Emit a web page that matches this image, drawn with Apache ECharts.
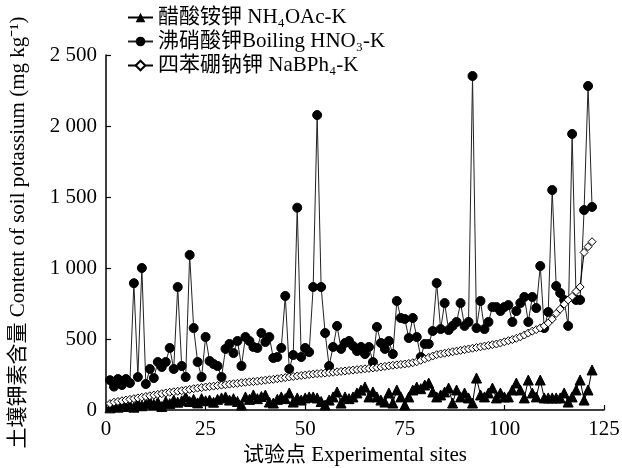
<!DOCTYPE html>
<html>
<head>
<meta charset="utf-8">
<script src="https://cdn.jsdelivr.net/npm/echarts@6/dist/echarts.min.js"></script>
<style>html,body{margin:0;padding:0;background:#fff}#c{width:622px;height:468px}</style>
</head>
<body>
<div id="c"></div>
<script>
var xTicks = [0, 25, 50, 75, 100, 125];
var yTicks = [0, 500, 1000, 1500, 2000, 2500];
var seriesNames = ['醋酸铵钾 NH₄OAc-K', '沸硝酸钾Boiling HNO₃-K', '四苯硼钠钾 NaBPh₄-K'];

var nh4oac = [15,30,20,40,25,35,20,50,30,45,60,40,55,25,60,45,70,55,65,92,60,75,50,80,65,
  70,55,75,85,92,70,80,60,35,92,75,106,80,95,106,56,49,75,92,80,120,56,85,70,85,
  92,92,85,60,35,70,92,127,49,92,80,92,120,140,162,92,127,92,70,56,120,49,141,92,35,
  92,141,162,150,176,190,127,92,106,127,155,49,141,92,120,85,49,225,106,92,120,155,85,120,92,
  92,141,190,141,85,211,120,92,211,85,85,85,85,85,120,56,92,141,211,70,141,282];

var hno3 = [210,165,218,176,218,190,893,232,1000,183,289,225,338,303,338,437,289,866,310,232,
  1092,577,338,232,514,345,324,310,232,430,465,401,486,310,514,486,444,437,542,479,
  514,366,373,437,803,289,387,1425,373,437,408,866,2077,866,542,310,444,592,430,472,
  486,451,415,444,394,444,338,585,472,430,486,394,768,648,641,507,648,514,373,465,
  465,556,894,570,753,563,592,620,753,592,620,2352,577,768,570,620,725,725,697,725,
  739,620,697,753,796,620,796,718,1014,577,690,1549,873,824,775,592,1944,775,775,1408,
  2282,1430];

var nabph4 = [45,55,60,65,70,75,80,85,90,95,100,105,110,115,120,125,128,132,136,140,
  145,150,154,158,162,165,168,172,175,178,182,185,188,192,195,198,200,203,206,210,
  213,216,220,224,228,232,236,240,243,246,250,253,256,258,260,263,266,269,272,275,
  278,281,284,287,290,293,296,299,303,307,311,315,318,321,324,328,333,340,350,360,
  370,380,390,395,400,405,410,415,420,425,430,435,440,445,450,455,460,465,472,480,
  488,496,505,515,528,542,555,566,578,592,612,640,680,710,745,775,800,835,866,1110,
  1150,1185];

function pairs(arr){ return arr.map(function(v,i){ return [i+1, v]; }); }
function fmtNum(v){ return v >= 1000 ? Math.floor(v/1000) + ' ' + String(v%1000).padStart(3,'0') : String(v); }

var serif = '"Liberation Serif", "Noto Sans CJK SC", serif';
var FS = 21;
var chart = echarts.init(document.getElementById('c'), null, {renderer:'canvas'});
chart.setOption({
  animation: false,
  backgroundColor: '#fff',
  grid: {left: 106, right: 18, top: 55, bottom: 58, containLabel: false, outerBoundsMode: 'none'},
  legend: {
    orient: 'vertical', left: 127, top: 7, itemGap: 3, itemWidth: 25, itemHeight: 12,
    padding: 0,
    data: seriesNames,
    textStyle: {color: '#000', fontFamily: serif, fontSize: FS, lineHeight: 19}
  },
  xAxis: {
    type: 'value', min: 0, max: 125, interval: 25,
    name: '试验点 Experimental sites', nameLocation: 'middle', nameGap: 35,
    nameTextStyle: {color: '#000', fontFamily: serif, fontSize: FS},
    axisLine: {lineStyle: {color: '#000', width: 1.5}},
    axisTick: {inside: true, length: 5, lineStyle: {color: '#000', width: 1.2}},
    axisLabel: {color: '#000', fontFamily: serif, fontSize: FS, margin: 9,
      formatter: function(v){ return xTicks.indexOf(v) >= 0 ? String(v) : ''; }},
    splitLine: {show: false}
  },
  yAxis: {
    type: 'value', min: 0, max: 2500, interval: 500,
    name: '土壤钾素含量 Content of soil potassium (mg kg⁻¹)',
    nameLocation: 'middle', nameGap: 77,
    nameTextStyle: {color: '#000', fontFamily: serif, fontSize: FS},
    axisLine: {show: true, lineStyle: {color: '#000', width: 1.5}},
    axisTick: {show: true, inside: true, length: 5, lineStyle: {color: '#000', width: 1.2}},
    axisLabel: {color: '#000', fontFamily: serif, fontSize: FS, margin: 9,
      formatter: function(v){ return yTicks.indexOf(v) >= 0 ? fmtNum(v) : ''; }},
    splitLine: {show: false}
  },
  series: [
    {name: seriesNames[0], type: 'line', data: pairs(nh4oac), symbol: 'triangle', symbolSize: 10,
      lineStyle: {color: '#000', width: 1}, itemStyle: {color: '#000', borderColor: '#000'}, z: 2},
    {name: seriesNames[1], type: 'line', data: pairs(hno3), symbol: 'circle', symbolSize: 9,
      lineStyle: {color: '#222', width: 1}, itemStyle: {color: '#000', borderColor: '#000'}, z: 3},
    {name: seriesNames[2], type: 'line', data: pairs(nabph4), symbol: 'diamond', symbolSize: 8,
      lineStyle: {color: '#000', width: 1}, itemStyle: {color: '#fff', borderColor: '#000', borderWidth: 1}, z: 4}
  ]
});
</script>
</body>
</html>
